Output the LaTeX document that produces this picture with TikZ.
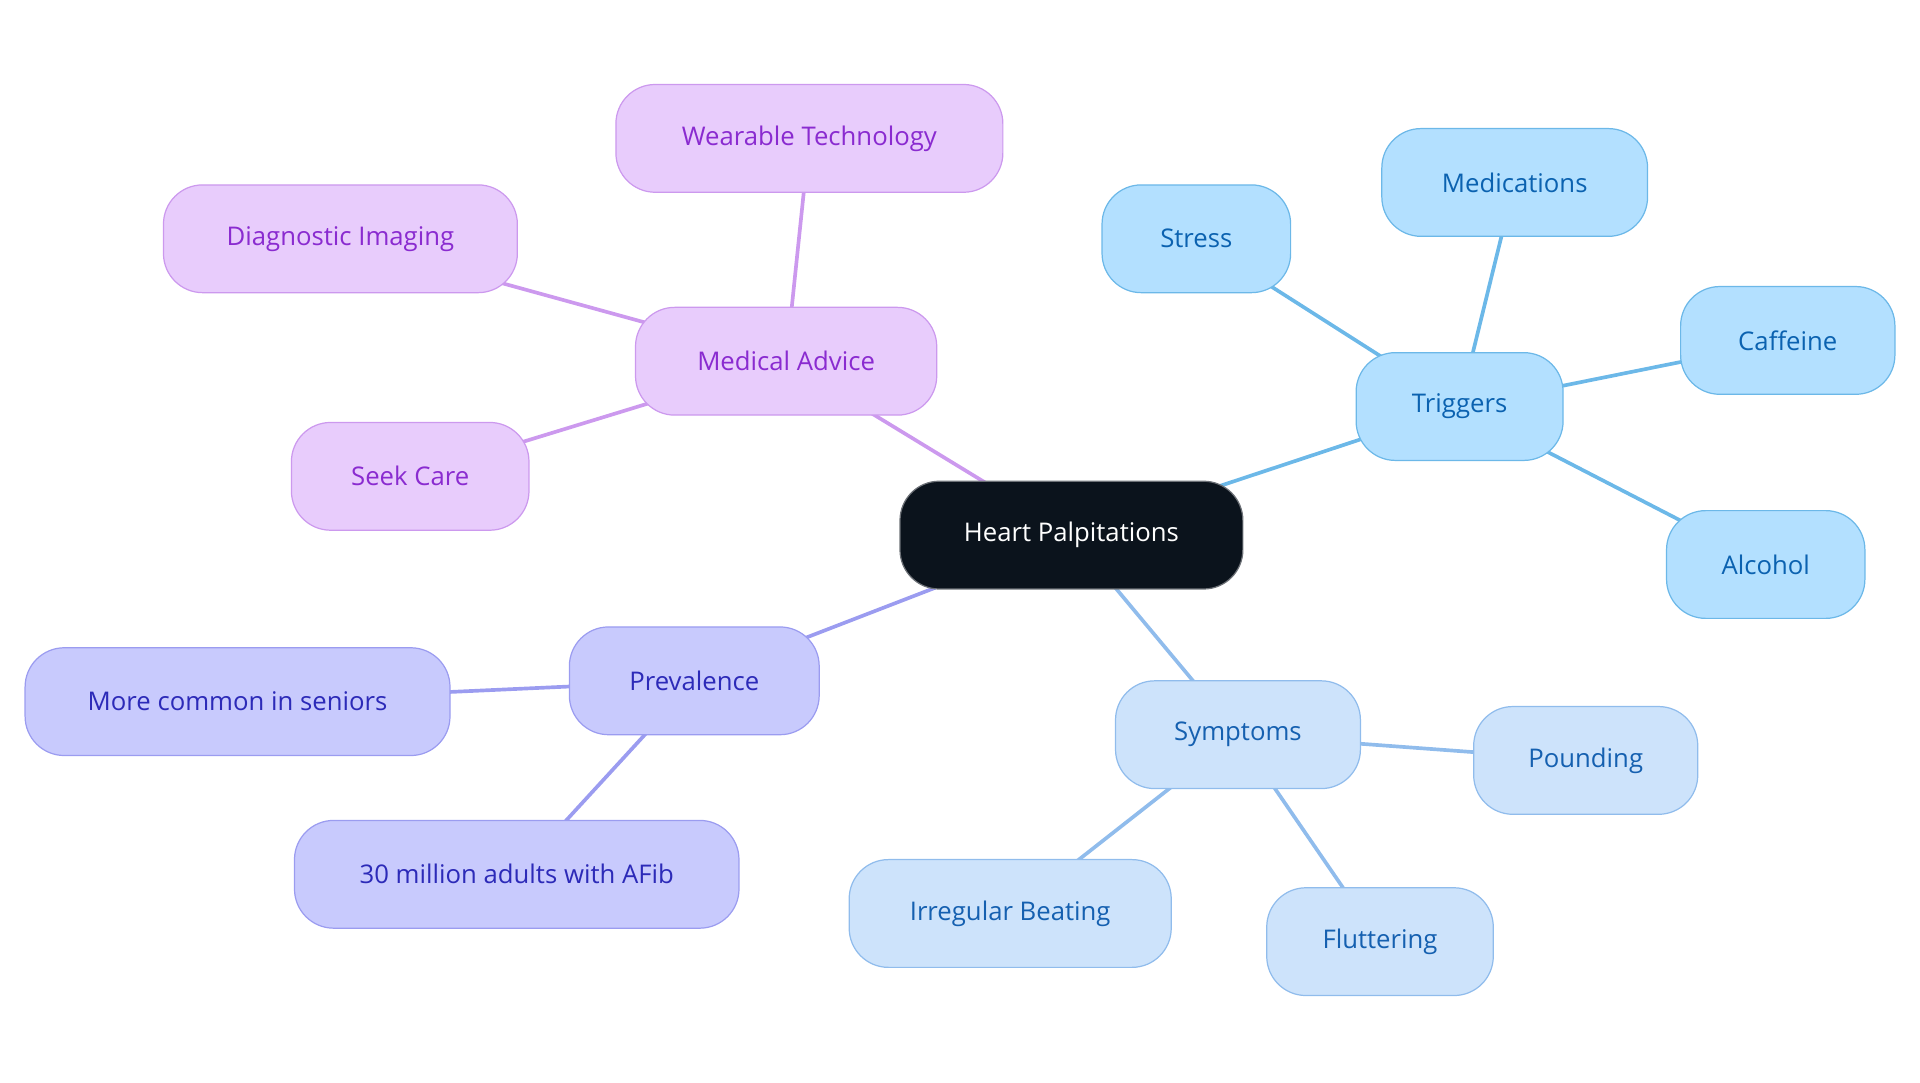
\documentclass[tikz,border=0pt]{standalone}
\usepackage{fontspec}
\setmainfont{Open Sans}
\usetikzlibrary{backgrounds}
\definecolor{tf}{HTML}{B3E0FF}\definecolor{tb}{HTML}{6CB8E8}\definecolor{tt}{HTML}{0B62B0}
\definecolor{sf}{HTML}{CDE3FB}\definecolor{sb}{HTML}{90BCEC}\definecolor{st}{HTML}{1560B0}
\definecolor{pf}{HTML}{C8CAFD}\definecolor{pb}{HTML}{9B9CF0}\definecolor{pt}{HTML}{2C2AB8}
\definecolor{mf}{HTML}{E8CCFC}\definecolor{mb}{HTML}{CC99EE}\definecolor{mt}{HTML}{8A2BD0}
\definecolor{root}{HTML}{0B131C}
\tikzset{
 box/.style={rectangle,rounded corners=32pt,minimum height=88pt,line width=1pt,font=\fontsize{21}{25}\selectfont,inner sep=0pt},
 trig/.style={box,fill=tf,draw=tb,text=tt},
 symp/.style={box,fill=sf,draw=sb,text=st},
 prev/.style={box,fill=pf,draw=pb,text=pt},
 med/.style={box,fill=mf,draw=mb,text=mt},
 el/.style={line width=3pt},
}
\begin{document}
\begin{tikzpicture}[x=1pt,y=-1pt]
\useasboundingbox (0,0) rectangle (1568,884);
\node[box,fill=root,draw=root!60,text=white,minimum width=280pt] (hp) at (875,437) {Heart Palpitations};
\node[trig,minimum width=169pt] (tr) at (1192,332) {Triggers};
\node[trig,minimum width=154pt] (st) at (977,195) {Stress};
\node[trig,minimum width=217pt] (me) at (1237,149) {Medications};
\node[trig,minimum width=175pt] (ca) at (1460,278) {Caffeine};
\node[trig,minimum width=162pt] (al) at (1442,461) {Alcohol};
\node[symp,minimum width=200pt] (sy) at (1011,600) {Symptoms};
\node[symp,minimum width=183pt] (po) at (1295,621) {Pounding};
\node[symp,minimum width=185pt] (fl) at (1127,769) {Fluttering};
\node[symp,minimum width=263pt] (ir) at (825,746) {Irregular Beating};
\node[prev,minimum width=204pt] (pr) at (567,556) {Prevalence};
\node[prev,minimum width=347pt] (mc) at (194,573) {More common in seniors};
\node[prev,minimum width=363pt] (mi) at (422,714) {30 million adults with AFib};
\node[med,minimum width=246pt] (ma) at (642,295) {Medical Advice};
\node[med,minimum width=316pt] (wt) at (661,113) {Wearable Technology};
\node[med,minimum width=289pt] (di) at (278,195) {Diagnostic Imaging};
\node[med,minimum width=194pt] (sc) at (335,389) {Seek Care};
\begin{pgfonlayer}{background}
\draw[el,tb] (hp.center)--(tr.center);
\foreach \n in {st,me,ca,al} \draw[el,tb] (tr.center)--(\n.center);
\draw[el,sb] (hp.center)--(sy.center);
\foreach \n in {po,fl,ir} \draw[el,sb] (sy.center)--(\n.center);
\draw[el,pb] (hp.center)--(pr.center);
\foreach \n in {mc,mi} \draw[el,pb] (pr.center)--(\n.center);
\draw[el,mb] (hp.center)--(ma.center);
\foreach \n in {wt,di,sc} \draw[el,mb] (ma.center)--(\n.center);
\end{pgfonlayer}
\end{tikzpicture}
\end{document}
